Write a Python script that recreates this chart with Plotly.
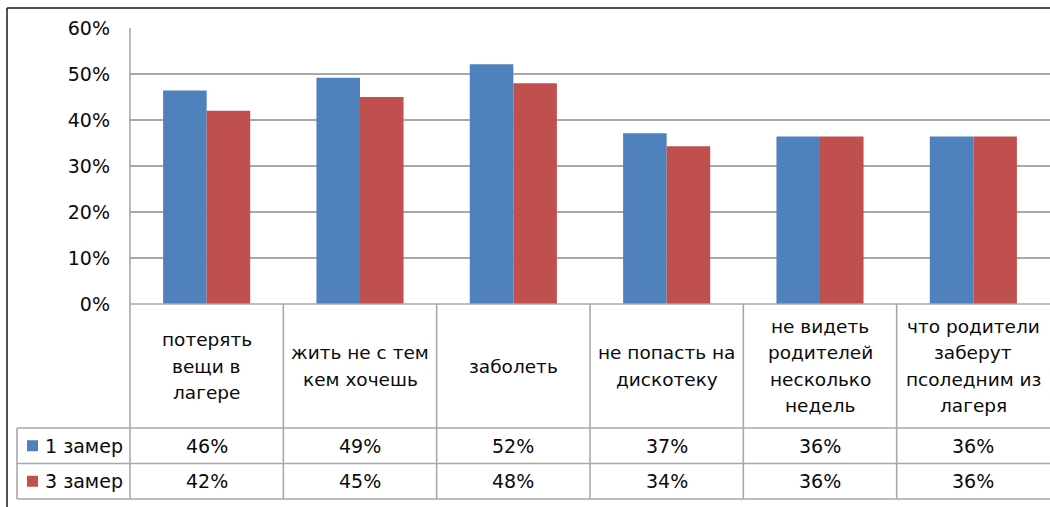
import plotly.graph_objects as go

# ---- data ----
categories = [
    "потерять<br>вещи в<br>лагере",
    "жить не с тем<br>кем хочешь",
    "заболеть",
    "не попасть на<br>дискотеку",
    "не видеть<br>родителей<br>несколько<br>недель",
    "что родители<br>заберут<br>псоледним из<br>лагеря",
]
series_names = ["1 замер", "3 замер"]
values_1 = [46.4, 49.2, 52.1, 37.1, 36.4, 36.4]
values_3 = [42.0, 45.0, 48.0, 34.3, 36.4, 36.4]
y_ticks = [0, 10, 20, 30, 40, 50, 60]

BLUE = "#4F81BD"
RED = "#C0504D"
GRID = "#a8a8a8"
FONT = "DejaVu Sans"
TXT = "#0a0a0a"
W, H = 1050, 507


def X(px):
    return px / W


def Y(py):
    return 1 - py / H


PLOT_L, PLOT_R = 130, 1050
Y0, Y60 = 304, 28
HDR_B, ROW1_B, ROW2_B = 428, 463.5, 499
LEG_L = 17

n = len(categories)
xs = list(range(n))
fig = go.Figure()
for name, vals, col in [(series_names[0], values_1, BLUE), (series_names[1], values_3, RED)]:
    fig.add_trace(go.Bar(x=xs, y=vals, name=name, marker=dict(color=col, line=dict(width=0)),
                         showlegend=False))

shapes = []


def line(x0, y0, x1, y1, color=GRID, width=1.6):
    shapes.append(dict(type="line", xref="paper", yref="paper", x0=X(x0), y0=Y(y0),
                       x1=X(x1), y1=Y(y1), line=dict(color=color, width=width)))


# outer frame
line(7, 8, W + 5, 8, color="#1a1a1a", width=1.5)
line(7, 8, 7, H + 5, color="#1a1a1a", width=1.5)

# table lines
colw = (PLOT_R - PLOT_L) / n
line(PLOT_L, Y60, PLOT_L, ROW2_B)
for i in range(1, n):
    xb = PLOT_L + i * colw
    line(xb, Y0, xb, ROW2_B)
line(PLOT_L, Y0, PLOT_R, Y0)
for yy in (HDR_B, ROW1_B, ROW2_B):
    line(LEG_L, yy, PLOT_R, yy)
line(LEG_L, HDR_B, LEG_L, ROW2_B)

annotations = []
# header labels
for i, cat in enumerate(categories):
    cx = PLOT_L + (i + 0.5) * colw
    parts = cat.split("<br>")
    m = len(parts)
    for j, p in enumerate(parts):
        cy = 366 + (j - (m - 1) / 2) * 26.5
        annotations.append(dict(xref="paper", yref="paper", x=X(cx), y=Y(cy), text=p,
                                showarrow=False, xanchor="center", yanchor="middle",
                                font=dict(family=FONT, size=18.5, color=TXT)))

# value rows + legend keys
rows = [(values_1, BLUE, series_names[0], (HDR_B + ROW1_B) / 2),
        (values_3, RED, series_names[1], (ROW1_B + ROW2_B) / 2)]
for vals, col, name, cy in rows:
    for i, v in enumerate(vals):
        cx = PLOT_L + (i + 0.5) * colw
        annotations.append(dict(xref="paper", yref="paper", x=X(cx), y=Y(cy), text=f"{round(v)}%",
                                showarrow=False, xanchor="center", yanchor="middle",
                                font=dict(family=FONT, size=19, color=TXT)))
    shapes.append(dict(type="rect", xref="paper", yref="paper", x0=X(27), x1=X(38),
                       y0=Y(cy - 5.5), y1=Y(cy + 5.5), fillcolor=col, line=dict(width=0)))
    annotations.append(dict(xref="paper", yref="paper", x=X(43), y=Y(cy), text=name,
                            showarrow=False, xanchor="left", yanchor="middle",
                            font=dict(family=FONT, size=19, color=TXT)))

fig.update_layout(
    template="none",
    width=W, height=H, autosize=False,
    margin=dict(l=0, r=0, t=0, b=0, pad=0, autoexpand=False),
    paper_bgcolor="white", plot_bgcolor="white",
    barmode="group", bargap=0.432, bargroupgap=0,
    shapes=shapes, annotations=annotations,
    xaxis=dict(domain=[X(PLOT_L), X(PLOT_R)], range=[-0.5, n - 0.5], showticklabels=False,
               showgrid=False, zeroline=False, showline=False, fixedrange=True,
               automargin=False, ticks=""),
    yaxis=dict(domain=[Y(Y0), Y(Y60)], range=[0, 60], tickvals=y_ticks,
               ticktext=[f"{t}%" for t in y_ticks], showgrid=True, gridcolor=GRID, gridwidth=1.6,
               zeroline=False, showline=False, ticks="", ticklabelstandoff=19, automargin=False,
               tickfont=dict(family=FONT, size=19, color=TXT), fixedrange=True),
)

page_fix = (
    "document.documentElement.style.margin='0';"
    "document.documentElement.style.overflow='hidden';"
    "document.body.style.margin='0';document.body.style.padding='0';"
    "document.body.style.overflow='hidden';"
    "var gd=document.getElementById('{plot_id}');"
    "if(gd){gd.style.position='fixed';gd.style.top='0px';gd.style.left='0px';"
    "gd.style.margin='0';}"
)

fig.write_html("out.html", post_script=page_fix,
               config={"displayModeBar": False})
